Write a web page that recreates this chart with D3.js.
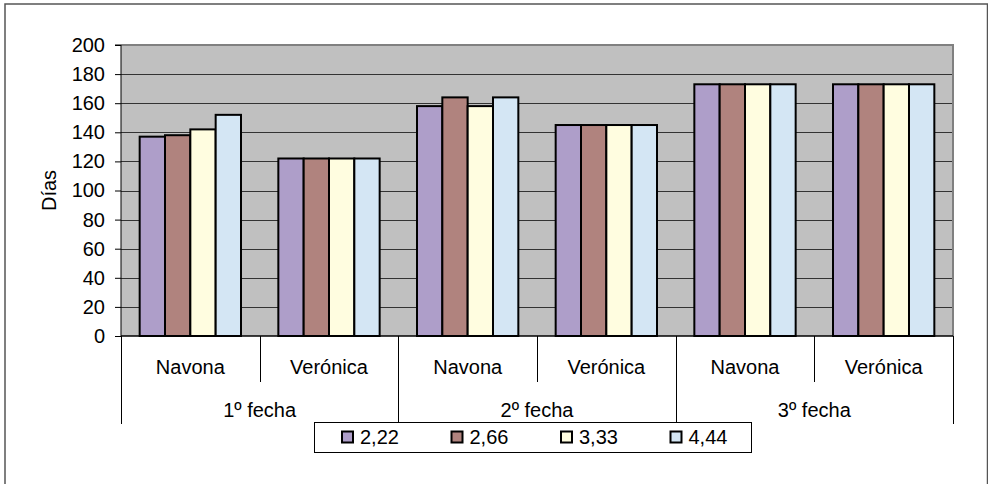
<!DOCTYPE html>
<html>
<head>
<meta charset="utf-8">
<script src="https://cdn.jsdelivr.net/npm/d3@7"></script>
<style>
  html, body { margin: 0; padding: 0; background: #fff; }
  svg { display: block; font-family: "Liberation Sans", Arial, sans-serif; }
</style>
</head>
<body>
<svg id="chart" width="988" height="484"></svg>
<script>
// ---- data ----
const fechas = ["1º fecha", "2º fecha", "3º fecha"];
const variedades = ["Navona", "Verónica"];
const seriesNames = ["2,22", "2,66", "3,33", "4,44"];
const s222 = [137, 122, 158, 145, 173, 173];
const s266 = [138, 122, 164, 145, 173, 173];
const s333 = [142, 122, 158, 145, 173, 173];
const s444 = [152, 122, 164, 145, 173, 173];
const yTicks = [0, 20, 40, 60, 80, 100, 120, 140, 160, 180, 200];
const yLabel = "Días";
const colors = ["#ae9ec9", "#b0837e", "#fffde0", "#d4e6f4"];

const seriesValues = [s222, s266, s333, s444];
const categories = [];
fechas.forEach(f => variedades.forEach(v => categories.push({ fecha: f, variedad: v, key: f + "|" + v })));

const FONT = "20px";
const FAMILY = "'Liberation Sans', Arial, sans-serif";

// ---- layout ----
const svg = d3.select("#chart");
const plot = { left: 121, right: 953, top: 45, bottom: 336 };

const x0 = d3.scaleBand().domain(categories.map(c => c.key))
  .range([plot.left, plot.right]).paddingInner(0).paddingOuter(0);
const x1 = d3.scaleBand().domain(seriesNames)
  .range([0, x0.bandwidth()]).paddingInner(0).paddingOuter(0.737);
const xF = d3.scaleBand().domain(fechas).range([plot.left, plot.right]);
const y = d3.scaleLinear().domain([0, 200]).range([plot.bottom, plot.top]);

// outer border
svg.append("rect").attr("x", 5).attr("y", 4).attr("width", 982.5).attr("height", 520)
  .attr("fill", "#fff").attr("stroke", "#555").attr("stroke-width", 1.5);

// plot area
svg.append("rect").attr("x", plot.left).attr("y", plot.top)
  .attr("width", plot.right - plot.left).attr("height", plot.bottom - plot.top)
  .attr("fill", "#c0c0c0");

// gridlines
svg.append("g").selectAll("line").data(yTicks.filter(t => t > 0 && t < 200)).join("line")
  .attr("x1", plot.left).attr("x2", plot.right)
  .attr("y1", d => Math.round(y(d)) + 0.5).attr("y2", d => Math.round(y(d)) + 0.5)
  .attr("stroke", "#333").attr("stroke-width", 1.2);

// plot border top/right
svg.append("path")
  .attr("d", `M${plot.left},${plot.top}H${plot.right}V${plot.bottom}`)
  .attr("fill", "none").attr("stroke", "#808080").attr("stroke-width", 2);

// bars
const data = [];
categories.forEach((c, i) => seriesNames.forEach((s, j) => data.push({ key: c.key, s, j, v: seriesValues[j][i] })));
svg.append("g").selectAll("rect").data(data).join("rect")
  .attr("x", d => x0(d.key) + x1(d.s))
  .attr("y", d => y(d.v))
  .attr("width", x1.bandwidth())
  .attr("height", d => y(0) - y(d.v))
  .attr("fill", d => colors[d.j])
  .attr("stroke", "#000").attr("stroke-width", 2);

// y axis
const yAxis = d3.axisLeft(y).tickValues(yTicks).tickSize(6).tickPadding(10);
const ga = svg.append("g").attr("transform", `translate(${plot.left},0)`).call(yAxis);
ga.attr("font-family", null).attr("font-size", null);
ga.select(".domain").attr("stroke", "#000").attr("d", `M-6,${plot.top}H0V${plot.bottom}`);
ga.selectAll(".tick line").attr("stroke", "#000");
ga.selectAll(".tick text").attr("font-size", FONT).attr("fill", "#000")
  .attr("font-family", FAMILY);

// x axis baseline
svg.append("line").attr("x1", plot.left).attr("x2", plot.right)
  .attr("y1", plot.bottom).attr("y2", plot.bottom).attr("stroke", "#000").attr("stroke-width", 1.5);

// category separators
const gx = svg.append("g");
categories.forEach((c, i) => {
  const xr = x0(c.key) + x0.bandwidth();
  const long = (i % 2 === 1);
  gx.append("line").attr("x1", Math.round(xr) + 0.5).attr("x2", Math.round(xr) + 0.5)
    .attr("y1", plot.bottom).attr("y2", long ? 424 : 382).attr("stroke", "#000");
});
gx.append("line").attr("x1", plot.left + 0.5).attr("x2", plot.left + 0.5)
  .attr("y1", plot.bottom).attr("y2", 424).attr("stroke", "#000");

// category labels
svg.append("g").selectAll("text").data(categories).join("text")
  .attr("x", d => x0(d.key) + x0.bandwidth() / 2).attr("y", 374)
  .attr("text-anchor", "middle").attr("font-size", FONT).text(d => d.variedad);
svg.append("g").selectAll("text").data(fechas).join("text")
  .attr("x", d => xF(d) + xF.bandwidth() / 2).attr("y", 417)
  .attr("text-anchor", "middle").attr("font-size", FONT).text(d => d);

// y label
svg.append("text").attr("transform", `translate(56,${(plot.top + plot.bottom) / 2}) rotate(-90)`)
  .attr("text-anchor", "middle").attr("font-size", FONT).text(yLabel);

// legend
const lg = svg.append("g");
lg.append("rect").attr("x", 314.5).attr("y", 422.5).attr("width", 437).attr("height", 30)
  .attr("fill", "#fff").attr("stroke", "#000").attr("stroke-width", 1);
const lx = d3.scalePoint().domain(seriesNames).range([341, 669.5]);
const items = lg.selectAll("g.item").data(seriesNames).join("g").attr("class", "item")
  .attr("transform", d => `translate(${lx(d)},0)`);
items.append("rect").attr("x", 1).attr("y", 431.5).attr("width", 11).attr("height", 11)
  .attr("fill", (d, i) => colors[i]).attr("stroke", "#000").attr("stroke-width", 2);
items.append("text").attr("x", 19).attr("y", 444).attr("font-size", FONT).text(d => d);
</script>
</body>
</html>
